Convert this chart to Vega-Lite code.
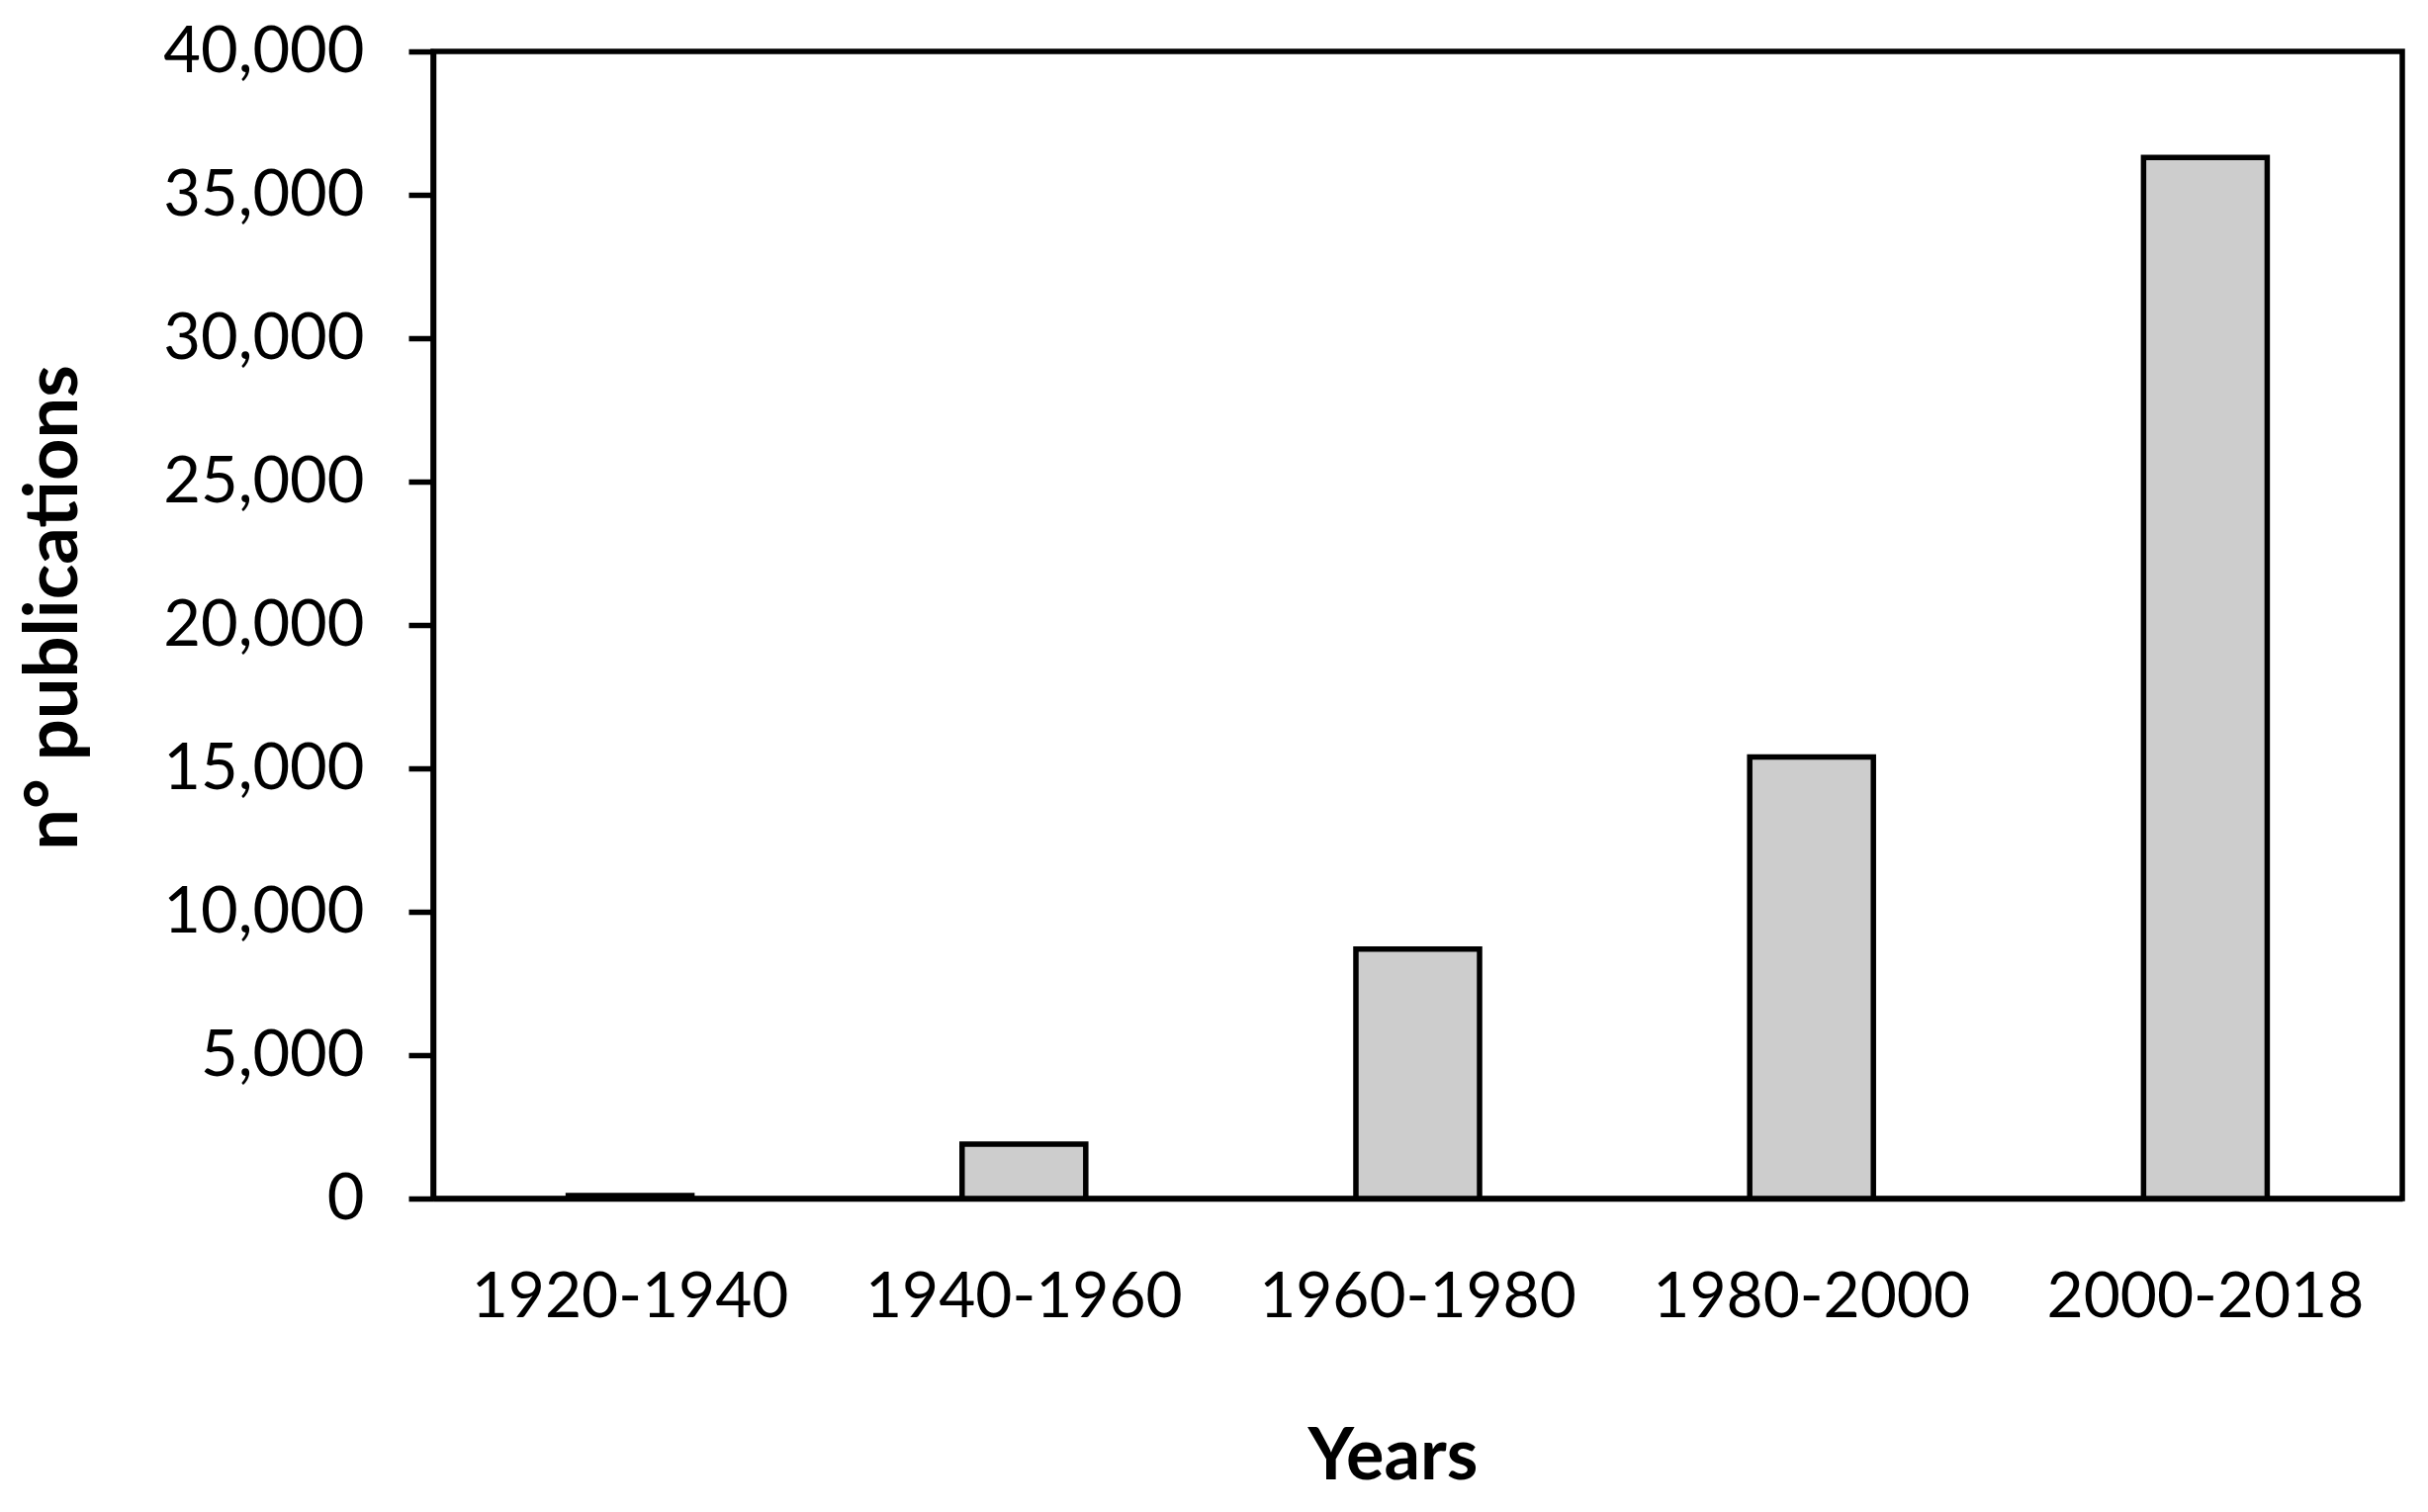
{
  "$schema": "https://vega.github.io/schema/vega-lite/v6.json",
  "autosize": "none",
  "width": 1991,
  "height": 1160,
  "padding": {"left": 438, "top": 52, "right": 26, "bottom": 317},
  "background": "white",
  "config": {
    "font": "Lato",
    "view": {"stroke": "black", "strokeWidth": 5.5}
  },
  "data": {
    "values": [
      {"period": "1920-1940", "publications": 100},
      {"period": "1940-1960", "publications": 1900},
      {"period": "1960-1980", "publications": 8700},
      {"period": "1980-2000", "publications": 15400},
      {"period": "2000-2018", "publications": 36300}
    ]
  },
  "mark": {"type": "bar", "fill": "#cdcdcd", "stroke": "black", "strokeWidth": 5.5},
  "encoding": {
    "x": {
      "field": "period",
      "type": "nominal",
      "sort": null,
      "title": "Years",
      "scale": {"paddingInner": 0.686, "paddingOuter": 0.343},
      "axis": {
        "labelAngle": 0,
        "labelFont": "Lato",
        "labelFontSize": 64,
        "labelColor": "black",
        "labelPadding": 68,
        "labelLimit": 1000,
        "ticks": false,
        "tickSize": 0,
        "domainColor": "black",
        "domainWidth": 5.5,
        "titleFont": "Lato",
        "titleFontSize": 72,
        "titleFontWeight": "bold",
        "titleColor": "black",
        "titlePadding": 94,
        "titleX": 970
      }
    },
    "y": {
      "field": "publications",
      "type": "quantitative",
      "title": "n° publications",
      "scale": {"domain": [0, 40000], "nice": false},
      "axis": {
        "values": [0, 5000, 10000, 15000, 20000, 25000, 30000, 35000, 40000],
        "format": ",.0f",
        "grid": false,
        "labelFont": "Lato",
        "labelFontSize": 65,
        "labelColor": "black",
        "labelPadding": 45,
        "labelLimit": 1000,
        "tickSize": 25,
        "tickWidth": 5.5,
        "tickColor": "black",
        "domainColor": "black",
        "domainWidth": 5.5,
        "titleFont": "Lato",
        "titleFontSize": 74,
        "titleFontWeight": "bold",
        "titleColor": "black",
        "titleX": -345,
        "titleY": 562
      }
    }
  }
}
